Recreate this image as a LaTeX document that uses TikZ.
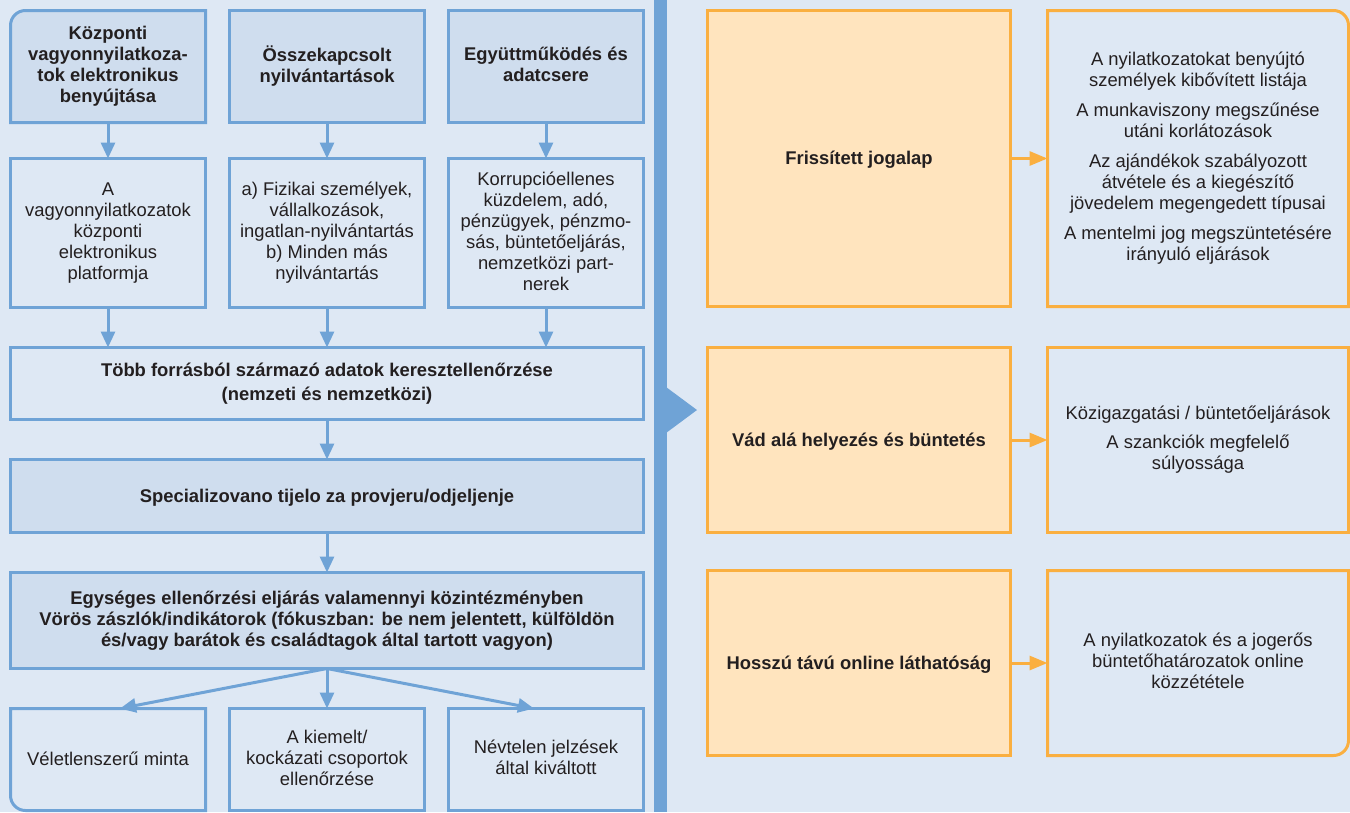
\documentclass[tikz,border=0pt]{standalone}
\usepackage{fontspec}
\setmainfont{Liberation Sans}
\usetikzlibrary{arrows.meta}
\pgfdeclarelayer{background}
\pgfsetlayers{background,main}
\definecolor{bgc}{RGB}{222,232,244}
\definecolor{hdc}{RGB}{207,221,238}
\definecolor{bln}{RGB}{111,163,214}
\definecolor{ofill}{RGB}{255,228,190}
\definecolor{oln}{RGB}{250,175,64}
\definecolor{txt}{RGB}{35,31,32}
\newcommand\lnstrut{\rule[-3.9pt]{0pt}{20.6pt}}
\begin{document}
\begin{tikzpicture}[x=1pt,y=-1pt,
  base/.style={rectangle, outer sep=0pt, inner sep=0pt, align=center, text=txt,
    font=\fontsize{18.4}{21}\selectfont,
    execute at begin node=\lnstrut, execute at end node=\lnstrut},
  boldbase/.style={base, font=\fontsize{18.4}{21}\selectfont\bfseries},
  hdr/.style={boldbase, fill=hdc},
  plain/.style={base, fill=bgc},
  wide/.style={boldbase, fill=bgc},
  obox/.style={boldbase, fill=ofill},
  rbox/.style={base, fill=bgc},
  colw/.style={minimum width=195pt},
  barr/.style={draw=bln, line width=3pt, -{Triangle[length=16pt,width=14pt]}},
  oarr/.style={draw=oln, line width=3pt, -{Triangle[length=18pt,width=14pt]}},
  bline/.style={draw=bln, line width=3pt},
  oline/.style={draw=oln, line width=3pt}
]
\useasboundingbox (0,0) rectangle (1350,812);
\begin{pgfonlayer}{background}
\fill[bgc] (0,0) rectangle (1350,812);
\end{pgfonlayer}

% left column headers
\node[boldbase, colw, minimum height=112pt] (h1) at (108,66.5) {Központi\\vagyonnyilatkoza-\\tok elektronikus\\benyújtása};
\node[hdr, colw, minimum height=112pt] (h2) at (327,66.5) {Összekapcsolt\\nyilvántartások};
\node[hdr, colw, minimum height=112pt] (h3) at (546,66.5) {Együttműködés és\\adatcsere};

% middle boxes
\node[plain, colw, minimum height=149pt] (m1) at (108,233) {A\\vagyonnyilatkozatok\\központi\\elektronikus\\platformja};
\node[plain, colw, minimum height=149pt] (m2) at (327,233) {a) Fizikai személyek,\\vállalkozások,\\ingatlan-nyilvántartás\\b) Minden más\\nyilvántartás};
\node[plain, colw, minimum height=149pt] (m3) at (546,233) {Korrupcióellenes\\küzdelem, adó,\\pénzügyek, pénzmo-\\sás, büntetőeljárás,\\nemzetközi part-\\nerek};

% wide boxes
\node[wide, minimum width=633pt, minimum height=72pt] (w1) at (327,383.5) {Több forrásból származó adatok keresztellenőrzése\\[3pt](nemzeti és nemzetközi)};
\node[hdr, minimum width=633pt, minimum height=73pt] (w2) at (327,496) {Specializovano tijelo za provjeru/odjeljenje};
\node[hdr, minimum width=633pt, minimum height=96pt] (w3) at (327,620.5) {Egységes ellenőrzési eljárás valamennyi közintézményben\\Vörös zászlók/indikátorok (fókuszban: be nem jelentett, külföldön\\és/vagy barátok és családtagok által tartott vagyon)};

% bottom boxes
\node[base, colw, minimum height=102pt] (b1) at (108,759.5) {Véletlenszerű minta};
\node[plain, colw, minimum height=102pt] (b2) at (327,759.5) {A kiemelt/\\kockázati csoportok\\ellenőrzése};
\node[plain, colw, minimum height=102pt] (b3) at (546,759.5) {Névtelen jelzések\\által kiváltott};

% right side
\node[obox, minimum width=303pt, minimum height=296pt] (o1) at (859,158.5) {Frissített jogalap};
\node[obox, minimum width=303pt, minimum height=185pt] (o2) at (859,440) {Vád alá helyezés és büntetés};
\node[obox, minimum width=303pt, minimum height=185pt] (o3) at (859,663) {Hosszú távú online láthatóság};

\node[base, minimum width=301pt, minimum height=296pt] (r1) at (1198,158.5) {A nyilatkozatokat benyújtó\\személyek kibővített listája\\[9pt]A munkaviszony megszűnése\\utáni korlátozások\\[9pt]Az ajándékok szabályozott\\átvétele és a kiegészítő\\jövedelem megengedett típusai\\[9pt]A mentelmi jog megszüntetésére\\irányuló eljárások};
\node[rbox, minimum width=301pt, minimum height=185pt] (r2) at (1198,440) {Közigazgatási / büntetőeljárások\\[8pt]A szankciók megfelelő\\súlyossága};
\node[base, minimum width=301pt, minimum height=185pt] (r3) at (1198,663) {A nyilatkozatok és a jogerős\\büntetőhatározatok online\\közzététele};

% fills of the rounded-corner boxes (behind their text)
\begin{pgfonlayer}{background}
\fill[hdc] (h1.south west) -- ([yshift=-15pt]h1.north west) arc[start angle=180,end angle=90,radius=15pt] -- (h1.north east) -- (h1.south east) -- cycle;
\fill[bgc] (b1.north west) -- ([yshift=15pt]b1.south west) arc[start angle=180,end angle=270,radius=15pt] -- (b1.south east) -- (b1.north east) -- cycle;
\fill[bgc] (r1.south west) -- (r1.north west) -- ([xshift=-15pt]r1.north east) arc[start angle=90,end angle=0,radius=15pt] -- (r1.south east) -- cycle;
\fill[bgc] (r3.north west) -- (r3.north east) -- ([yshift=15pt]r3.south east) arc[start angle=0,end angle=-90,radius=15pt] -- (r3.south west) -- cycle;
\end{pgfonlayer}

% outlines of the square boxes
\foreach \n in {h2,h3,m1,m2,m3,w1,w2,w3,b2,b3}
  \draw[bline] (\n.north west) rectangle (\n.south east);
\foreach \n in {o1,o2,o3,r2}
  \draw[oline] (\n.north west) rectangle (\n.south east);
% outlines of the rounded-corner boxes
\draw[bline] (h1.south west) -- ([yshift=-15pt]h1.north west) arc[start angle=180,end angle=90,radius=15pt] -- (h1.north east) -- (h1.south east) -- cycle;
\draw[bline] (b1.north west) -- ([yshift=15pt]b1.south west) arc[start angle=180,end angle=270,radius=15pt] -- (b1.south east) -- (b1.north east) -- cycle;
\draw[oline] (r1.south west) -- (r1.north west) -- ([xshift=-15pt]r1.north east) arc[start angle=90,end angle=0,radius=15pt] -- (r1.south east) -- cycle;
\draw[oline] (r3.north west) -- (r3.north east) -- ([yshift=15pt]r3.south east) arc[start angle=0,end angle=-90,radius=15pt] -- (r3.south west) -- cycle;

% divider
\fill[bln] (654,0) rectangle (667,812);
\fill[bln] (666,387) -- (697,410) -- (666,433) -- cycle;

% blue connectors
\draw[barr] (h1) -- (m1);
\draw[barr] (h2) -- (m2);
\draw[barr] (h3) -- (m3);
\draw[barr] (m1) -- (m1 |- w1.north);
\draw[barr] (m2) -- (m2 |- w1.north);
\draw[barr] (m3) -- (m3 |- w1.north);
\draw[barr] (w1) -- (w2);
\draw[barr] (w2) -- (w3);
\draw[barr] (w3.south) -- ([xshift=12pt]b1.north);
\draw[barr] (w3.south) -- (b2.north);
\draw[barr] (w3.south) -- ([xshift=-12pt]b3.north);

% orange connectors
\draw[oarr] (o1) -- (r1);
\draw[oarr] (o2) -- (r2);
\draw[oarr] (o3) -- (r3);
\end{tikzpicture}
\end{document}
